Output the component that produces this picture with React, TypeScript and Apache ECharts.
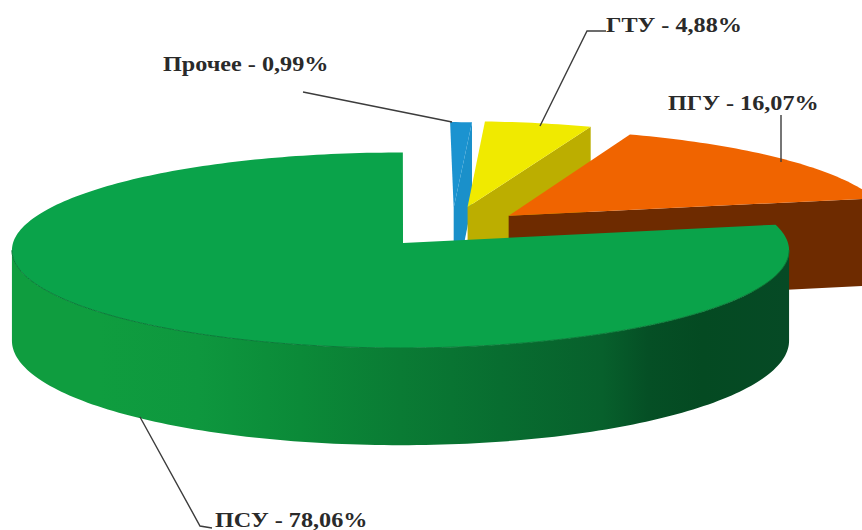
import React, { useEffect, useRef } from "react";
import * as echarts from "echarts";

// Shares of generation capacity by plant type, clockwise from twelve o'clock.
const categories = ["Прочее", "ГТУ", "ПГУ", "ПСУ"];
const shares = [0.99, 4.88, 16.07, 78.06];
const shareLabels = ["0,99%", "4,88%", "16,07%", "78,06%"];

// Flat disc projected in perspective: (u, v) on the unit disc, v towards the viewer.
const CX = 400.5;
const CY = 243;
const RX = 387.5;
const RY = 97.2;
const PERSPECTIVE = 0.0741;
const DEPTH = 90;
// Angle at which the rim reaches its widest point on screen.
const SILHOUETTE = Math.acos(-PERSPECTIVE);
// The large wedge's vertical cut sits slightly right of the disc centre.
const CUT_SHIFT = 0.0065;

// How far each wedge is pulled out of the disc, in disc units.
const explodeU = [0.141, 0.178, 0.285, 0];
const explodeV = [-0.37, -0.38, -0.285, 0];

const topColors = ["#1b93d0", "#f0ea00", "#f06400", "#0aa34a"];
const faceColors = ["#1a90ca", "#bcae00", "#6e2b00", "#064a24"];

const FONT = '"Liberation Serif", "Times New Roman", serif';

// Leader line points and label anchors for each wedge.
const leaders = [
  [[303, 92], [452, 122]],
  [[606, 31], [587, 31], [540, 126]],
  [[781, 115], [781, 162]],
  [[140, 417], [200, 526], [212, 528]],
];
const labelAt = [
  [163, 63],
  [606, 24],
  [668, 102],
  [215, 519],
];

function project(u: number, v: number, drop: number): number[] {
  const w = 1 - PERSPECTIVE * v;
  return [CX + (RX * u) / w, CY + (RY * v + drop) / w];
}

function arcPoints(i: number, from: number, to: number, drop: number): number[][] {
  const pts: number[][] = [];
  const steps = Math.max(4, Math.ceil(Math.abs(to - from) / 0.02));
  for (let s = 0; s <= steps; s++) {
    const a = from + ((to - from) * s) / steps;
    pts.push(project(explodeU[i] + Math.sin(a), explodeV[i] - Math.cos(a), drop));
  }
  return pts;
}

function sliceAngles(i: number, value: number): number[] {
  const total = shares.reduce((sum, s) => sum + s, 0);
  const before = shares.slice(0, i).reduce((sum, s) => sum + s, 0);
  const start = (before / total) * Math.PI * 2;
  return [start, start + (value / total) * Math.PI * 2];
}

const renderSlice = (params: any, api: any) => {
  const i = params.dataIndex;
  const isMain = i === shares.length - 1;
  const [start, rawEnd] = sliceAngles(i, api.value(0));
  const end = isMain ? rawEnd + CUT_SHIFT : rawEnd;
  const apex = project(explodeU[i] + (isMain ? CUT_SHIFT : 0), explodeV[i], 0);
  const apexLow = project(explodeU[i], explodeV[i], DEPTH);
  const children: any[] = [];

  if (!isMain) {
    // The trailing cut face of a pulled-out wedge is the side turned to the viewer.
    const rimTop = arcPoints(i, end, end, 0)[0];
    const rimLow = arcPoints(i, end, end, DEPTH)[0];
    children.push({
      type: "polygon",
      shape: { points: [apex, rimTop, rimLow, apexLow] },
      style: { fill: faceColors[i] },
    });
  } else {
    // Visible outer wall of the large wedge, shaded from left to right.
    const from = Math.max(start, SILHOUETTE);
    const to = Math.PI * 2 - SILHOUETTE;
    const upper = arcPoints(i, from, to, 0);
    const lower = arcPoints(i, from, to, DEPTH).reverse();
    children.push({
      type: "polygon",
      shape: { points: upper.concat(lower) },
      style: {
        fill: {
          type: "linear",
          global: true,
          x: 13,
          y: 0,
          x2: 788,
          y2: 0,
          colorStops: [
            { offset: 0, color: "#0f9d3f" },
            { offset: 0.11, color: "#0f9d3f" },
            { offset: 0.24, color: "#0e973e" },
            { offset: 0.37, color: "#0b8a38" },
            { offset: 0.5, color: "#0a7b34" },
            { offset: 0.63, color: "#086d30" },
            { offset: 0.76, color: "#07602c" },
            { offset: 0.82, color: "#054f25" },
            { offset: 0.89, color: "#044a22" },
            { offset: 1, color: "#064a25" },
          ],
        },
      },
    });
  }

  children.push({
    type: "polygon",
    shape: { points: [apex].concat(arcPoints(i, start, end, 0)) },
    style: { fill: topColors[i] },
  });

  if (isMain) {
    // Thin dark seam where the top meets the wall.
    children.push({
      type: "polyline",
      shape: {
        points: arcPoints(i, SILHOUETTE, Math.PI * 2 - SILHOUETTE, 0),
      },
      style: { fill: "none", stroke: "#0a7a38", lineWidth: 1 },
    });
  }

  children.push({
    type: "polyline",
    z2: 5,
    shape: { points: leaders[i] },
    style: { fill: "none", stroke: "#3c3c3c", lineWidth: 1.4 },
  });
  children.push({
    type: "text",
    z2: 6,
    x: labelAt[i][0],
    y: labelAt[i][1],
    scaleX: 1.1,
    style: {
      x: 0,
      y: 0,
      text: `${categories[i]} - ${shareLabels[i]}`,
      font: `bold 22px ${FONT}`,
      fill: "#2a2a2a",
      textAlign: "left",
      textVerticalAlign: "middle",
    },
  });

  return { type: "group", children };
};

export default function App() {
  const ref = useRef<HTMLDivElement>(null);

  useEffect(() => {
    document.body.style.margin = "0";
    const chart = echarts.init(ref.current!, undefined, { renderer: "svg" });
    chart.setOption({
      animation: false,
      backgroundColor: "#ffffff",
      series: [
        {
          type: "custom",
          coordinateSystem: "none",
          renderItem: renderSlice,
          data: shares.map((v) => [v]),
        },
      ],
    });
    return () => chart.dispose();
  }, []);

  return <div ref={ref} style={{ width: 862, height: 530 }} />;
}
